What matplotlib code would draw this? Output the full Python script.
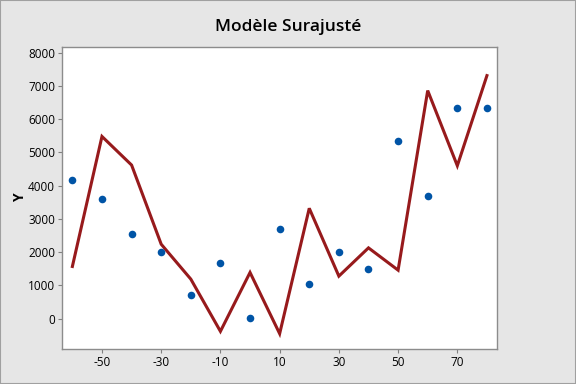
import matplotlib
matplotlib.use("Agg")
import matplotlib.pyplot as plt

x = [-60, -50, -40, -30, -20, -10, 0, 10, 20, 30, 40, 50, 60, 70, 80]
y_points = [4160, 3590, 2540, 2000, 700, 1665, 10, 2690, 1035, 2000, 1485, 5335, 3680, 6325, 6325]
y_fit = [1570, 5480, 4620, 2240, 1190, -380, 1390, -450, 3320, 1280, 2130, 1460, 6860, 4600, 7310]
xticks = [-50, -30, -10, 10, 30, 50, 70]
yticks = [0, 1000, 2000, 3000, 4000, 5000, 6000, 7000, 8000]

plt.rcParams['font.family'] = ['Open Sans', 'DejaVu Sans']

fig = plt.figure(figsize=(5.76, 3.84), dpi=100, facecolor='#E6E6E6')
ax = fig.add_axes([62/576, 1-349/384, (497-62)/576, (349-47)/384])
ax.set_facecolor('white')

ax.plot(x, y_fit, color='#971A1C', linewidth=2.2, solid_joinstyle='miter', zorder=2)
ax.scatter(x, y_points, color='#0054A6', s=30, zorder=3, linewidths=0)

ax.set_xlim(-63.5, 83.4)
ax.set_ylim(-911, 8170)
ax.set_xticks(xticks)
ax.set_xticklabels([str(t) for t in xticks])
ax.set_yticks(yticks)
ax.set_yticklabels([str(t) for t in yticks])
ax.tick_params(direction='out', length=3, width=0.8, color='#808080', labelsize=8.5, labelcolor='black', pad=2)
for s in ax.spines.values():
    s.set_color('#8C8C8C')
    s.set_linewidth(1)

ax.set_ylabel('Y', fontsize=10, fontweight='bold')
ax.yaxis.set_label_coords((27-62)/435, 0.5)
fig.text(0.5, 1-27/384, 'Modèle Surajusté', ha='center', va='center', fontsize=12.5, fontweight='semibold')

border = plt.Rectangle((0, 0), 1, 1, transform=fig.transFigure, fill=False, edgecolor='#A0A0A0', linewidth=1.5)
fig.patches.append(border)

fig.savefig('out.png', dpi=100, facecolor=fig.get_facecolor())
